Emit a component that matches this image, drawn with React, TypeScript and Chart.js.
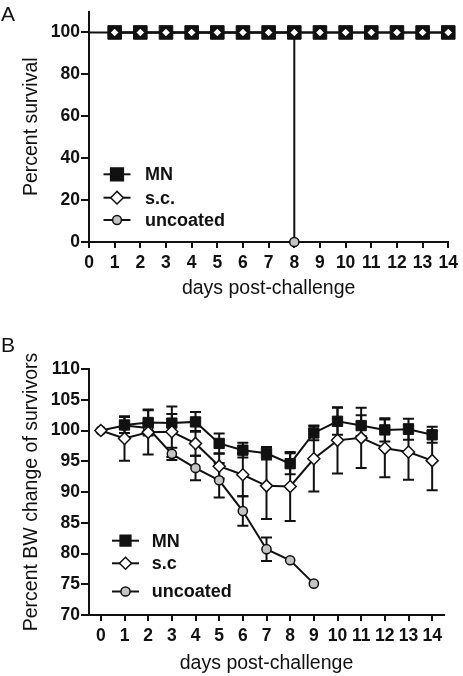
import React, { useEffect, useRef } from 'react';
import { Chart, registerables } from 'chart.js';

Chart.register(...registerables);

// ---------- Panel A: survival ----------
const daysA = [0, 1, 2, 3, 4, 5, 6, 7, 8, 9, 10, 11, 12, 13, 14];
const survivalDaysMN = [1, 2, 3, 4, 5, 6, 7, 8, 9, 10, 11, 12, 13, 14];
const mnSurvival = [100, 100, 100, 100, 100, 100, 100, 100, 100, 100, 100, 100, 100, 100];
const survivalDaysSC = [1, 2, 3, 4, 5, 6, 7, 8, 9, 10, 11, 12, 13, 14];
const scSurvival = [100, 100, 100, 100, 100, 100, 100, 100, 100, 100, 100, 100, 100, 100];
const survivalDaysUncoated = [0, 8];
const uncoatedSurvival = [100, 0];
const survivalTicksY = [0, 20, 40, 60, 80, 100];
const legendLabelsA = ['MN', 's.c.', 'uncoated'];

// ---------- Panel B: body weight ----------
const daysB = [0, 1, 2, 3, 4, 5, 6, 7, 8, 9, 10, 11, 12, 13, 14];
const mnWeight = [null, 100.9, 101.3, 101.2, 101.4, 97.9, 96.8, 96.3, 94.6, 99.6, 101.5, 100.8, 100.1, 100.2, 99.3];
const mnWeightErr = [0, 1.3, 2.1, 1.5, 1.6, 1.6, 1.2, 1.0, 1.7, 1.2, 2.2, 1.7, 1.9, 1.7, 1.3];
const scWeight = [100, 98.7, 99.7, 99.8, 97.9, 94.2, 92.8, 91.0, 90.9, 95.4, 98.4, 98.8, 97.1, 96.5, 95.1];
const scWeightErr = [0, 3.6, 3.6, 4.1, 2.0, 2.0, 3.5, 5.4, 5.6, 5.3, 5.4, 4.9, 4.7, 4.5, 4.8];
const uncoatedWeight = [100, 100.8, 100.4, 96.2, 93.9, 91.9, 86.9, 80.7, 78.9, 75.1, null, null, null, null, null];
const uncoatedWeightErr = [0, 0.5, 0.5, 1.0, 2.0, 2.8, 2.4, 1.9, 0, 0, 0, 0, 0, 0, 0];
const weightTicksY = [70, 75, 80, 85, 90, 95, 100, 105, 110];
const legendLabelsB = ['MN', 's.c', 'uncoated'];

const INK = '#111111';
const GREY = '#c4c4c4';
const FONT = "'Liberation Sans', Arial, Helvetica, sans-serif";

Chart.defaults.font.family = FONT;
Chart.defaults.color = INK;

type Marker = { style: 'rect' | 'rectRot' | 'circle'; r: number; fill: string };

function drawMarker(ctx: CanvasRenderingContext2D, m: Marker, x: number, y: number) {
  ctx.save();
  ctx.beginPath();
  if (m.style === 'rect') {
    const s = m.r * Math.SQRT1_2;
    ctx.rect(x - s, y - s, 2 * s, 2 * s);
  } else if (m.style === 'rectRot') {
    ctx.moveTo(x - m.r, y);
    ctx.lineTo(x, y - m.r);
    ctx.lineTo(x + m.r, y);
    ctx.lineTo(x, y + m.r);
    ctx.closePath();
  } else {
    ctx.arc(x, y, m.r, 0, Math.PI * 2);
  }
  ctx.fillStyle = m.fill;
  ctx.fill();
  ctx.lineWidth = 1.5;
  ctx.strokeStyle = INK;
  ctx.stroke();
  ctx.restore();
}

const panelLegend = {
  id: 'panelLegend',
  afterDraw(chart: any, _args: any, opts: any) {
    const ctx: CanvasRenderingContext2D = chart.ctx;
    ctx.save();
    opts.items.forEach((it: any, i: number) => {
      const y = opts.rows[i];
      ctx.beginPath();
      ctx.moveTo(opts.lineX0, y);
      ctx.lineTo(opts.lineX1, y);
      ctx.lineWidth = 2;
      ctx.strokeStyle = INK;
      ctx.stroke();
      drawMarker(ctx, it.marker, (opts.lineX0 + opts.lineX1) / 2, y);
      ctx.fillStyle = INK;
      ctx.font = `bold ${opts.fontSize}px ${FONT}`;
      ctx.textBaseline = 'middle';
      ctx.textAlign = 'left';
      ctx.fillText(it.label, opts.textX, y + 1);
    });
    ctx.restore();
  },
};

const errorBars = {
  id: 'errorBars',
  beforeDatasetsDraw(chart: any) {
    const ctx: CanvasRenderingContext2D = chart.ctx;
    const xs = chart.scales.x;
    const ys = chart.scales.y;
    ctx.save();
    ctx.strokeStyle = INK;
    ctx.lineWidth = 2;
    chart.data.datasets.forEach((ds: any) => {
      if (!ds.errors) return;
      ds.data.forEach((pt: any, i: number) => {
        const e = ds.errors[i];
        if (pt.y == null || !e) return;
        const px = xs.getPixelForValue(pt.x);
        const top = ys.getPixelForValue(pt.y + e);
        const bot = ys.getPixelForValue(pt.y - e);
        const cap = 5.5;
        ctx.beginPath();
        ctx.moveTo(px, top);
        ctx.lineTo(px, bot);
        ctx.moveTo(px - cap, top);
        ctx.lineTo(px + cap, top);
        ctx.moveTo(px - cap, bot);
        ctx.lineTo(px + cap, bot);
        ctx.stroke();
      });
    });
    ctx.restore();
  },
};

const pts = (xs: number[], ys: (number | null)[]) => xs.map((x, i) => ({ x, y: ys[i] }));

function axisBase(tickLength: number, tickPad: number, titleText: string, titlePad: any) {
  return {
    type: 'linear' as const,
    grid: { display: true, drawOnChartArea: false, drawTicks: true, tickLength, tickColor: INK, tickWidth: 2, lineWidth: 2, color: INK },
    border: { display: true, color: INK, width: 2 },
    ticks: { font: { size: 17.5, weight: 'bold' as const, family: FONT }, color: INK, padding: tickPad, autoSkip: false, maxRotation: 0 },
    title: { display: true, text: titleText, font: { size: 19.5, family: FONT }, color: INK, padding: titlePad },
  };
}

function configA(): any {
  return {
    type: 'line',
    data: {
      datasets: [
        {
          label: 's.c.',
          data: pts(survivalDaysSC, scSurvival),
          borderColor: INK, borderWidth: 2, pointStyle: 'rectRot', pointRadius: 4.8,
          pointBackgroundColor: '#ffffff', pointBorderColor: INK, pointBorderWidth: 1.5, clip: false, order: 0,
        },
        {
          label: 'MN',
          data: pts(survivalDaysMN, mnSurvival),
          borderColor: INK, borderWidth: 2, pointStyle: 'rect', pointRadius: 9.6,
          pointBackgroundColor: INK, pointBorderColor: INK, pointBorderWidth: 1, clip: false, order: 1,
        },
        {
          label: 'uncoated',
          data: pts(survivalDaysUncoated, uncoatedSurvival),
          stepped: 'before',
          borderColor: INK, borderWidth: 2, pointStyle: 'circle', pointRadius: [0, 4.6],
          pointBackgroundColor: GREY, pointBorderColor: INK, pointBorderWidth: 1.5, clip: false, order: 2,
        },
      ],
    },
    options: {
      animation: false, responsive: false, maintainAspectRatio: false,
      layout: { padding: { top: 4, right: 11, left: 0, bottom: 0 } },
      plugins: {
        legend: { display: false }, tooltip: { enabled: false },
        panelLegend: {
          items: [
            { label: legendLabelsA[0], marker: { style: 'rect', r: 9, fill: INK } },
            { label: legendLabelsA[1], marker: { style: 'rectRot', r: 6.3, fill: '#ffffff' } },
            { label: legendLabelsA[2], marker: { style: 'circle', r: 4.4, fill: GREY } },
          ],
          rows: [174.3, 197.7, 220], lineX0: 103.5, lineX1: 130.5, textX: 145, fontSize: 18,
        },
      },
      scales: {
        x: {
          ...axisBase(6, 5, 'days post-challenge', { top: 0, bottom: 30 }),
          min: 0, max: 14,
          afterBuildTicks: (s: any) => { s.ticks = daysA.map((v) => ({ value: v })); },
          afterFit: (s: any) => { s.height = 88; },
        },
        y: {
          ...axisBase(8, 1, 'Percent survival', { top: 20, bottom: 0 }),
          min: 0, max: 110,
          afterBuildTicks: (s: any) => { s.ticks = survivalTicksY.map((v) => ({ value: v })); },
          afterFit: (s: any) => { s.width = 89; },
        },
      },
    },
    plugins: [panelLegend],
  };
}

function configB(): any {
  return {
    type: 'line',
    data: {
      datasets: [
        {
          label: 's.c',
          data: pts(daysB, scWeight), errors: scWeightErr,
          borderColor: INK, borderWidth: 2, pointStyle: 'rectRot', pointRadius: 6,
          pointBackgroundColor: '#ffffff', pointBorderColor: INK, pointBorderWidth: 1.5, clip: false, order: 0,
        },
        {
          label: 'MN',
          data: pts(daysB, mnWeight), errors: mnWeightErr,
          borderColor: INK, borderWidth: 2, pointStyle: 'rect', pointRadius: 7.3,
          pointBackgroundColor: INK, pointBorderColor: INK, pointBorderWidth: 1, clip: false, order: 1,
        },
        {
          label: 'uncoated',
          data: pts(daysB, uncoatedWeight), errors: uncoatedWeightErr,
          borderColor: INK, borderWidth: 2, pointStyle: 'circle', pointRadius: 4.6,
          pointBackgroundColor: GREY, pointBorderColor: INK, pointBorderWidth: 1.5, clip: false, order: 2,
        },
      ],
    },
    options: {
      animation: false, responsive: false, maintainAspectRatio: false,
      layout: { padding: { top: 39, right: 19, left: 0, bottom: 0 } },
      plugins: {
        legend: { display: false }, tooltip: { enabled: false },
        panelLegend: {
          items: [
            { label: legendLabelsB[0], marker: { style: 'rect', r: 7.6, fill: INK } },
            { label: legendLabelsB[1], marker: { style: 'rectRot', r: 6, fill: '#ffffff' } },
            { label: legendLabelsB[2], marker: { style: 'circle', r: 4.6, fill: GREY } },
          ],
          rows: [210.7, 233.3, 261.5], lineX0: 112, lineX1: 139, textX: 151.7, fontSize: 18,
        },
      },
      scales: {
        x: {
          ...axisBase(6, 5, 'days post-challenge', { top: 0, bottom: 1 }),
          min: -0.5, max: 14.5,
          afterBuildTicks: (s: any) => { s.ticks = daysB.map((v) => ({ value: v })); },
          afterFit: (s: any) => { s.height = 61; },
        },
        y: {
          ...axisBase(8, 1, 'Percent BW change of survivors', { top: 20, bottom: 0 }),
          min: 70, max: 110,
          afterBuildTicks: (s: any) => { s.ticks = weightTicksY.map((v) => ({ value: v })); },
          afterFit: (s: any) => { s.width = 89; },
        },
      },
    },
    plugins: [errorBars, panelLegend],
  };
}

function ChartPanel({ top, height, make }: { top: number; height: number; make: () => any }) {
  const ref = useRef<HTMLCanvasElement>(null);
  useEffect(() => {
    const chart = new Chart(ref.current as HTMLCanvasElement, make());
    return () => chart.destroy();
  }, []);
  return (
    <div style={{ position: 'absolute', left: 0, top, width: 463, height }}>
      <canvas ref={ref} width={463} height={height} style={{ width: 463, height, display: 'block' }} />
    </div>
  );
}

const letterStyle: React.CSSProperties = {
  position: 'absolute', left: 1, fontFamily: FONT, fontSize: 21, lineHeight: '21px', color: INK,
};

export default function App() {
  return (
    <div style={{ position: 'absolute', left: 0, top: 0, width: 463, height: 676, background: '#fff' }}>
      <ChartPanel top={0} height={330} make={configA} />
      <ChartPanel top={330} height={346} make={configB} />
      <div style={{ ...letterStyle, top: 3 }}>A</div>
      <div style={{ ...letterStyle, top: 334 }}>B</div>
    </div>
  );
}
